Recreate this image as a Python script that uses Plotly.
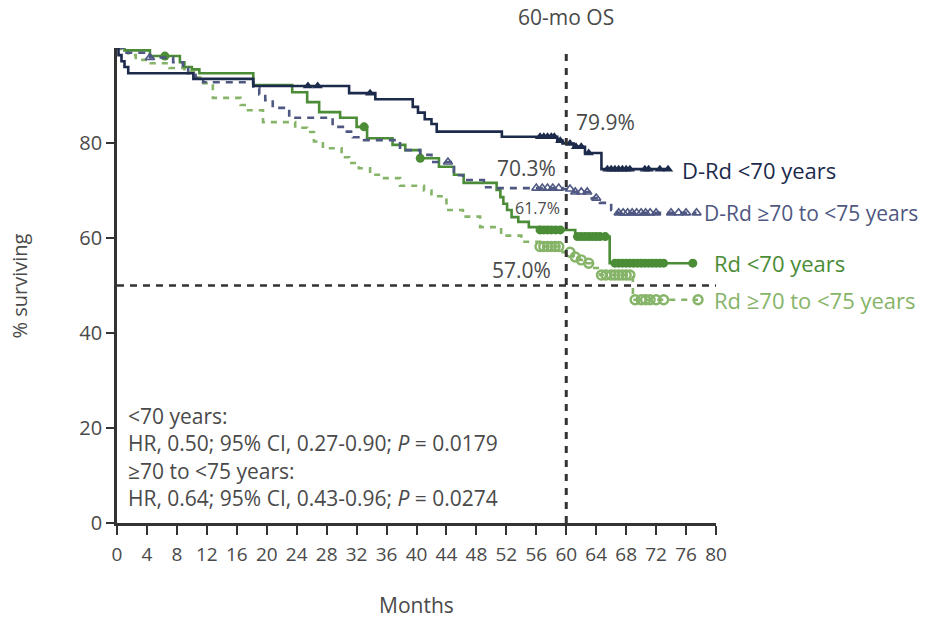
import plotly.graph_objects as go

# ---------------- data (months, % surviving) ----------------
drd70_t = [0, 0.2, 0.6, 1.0, 1.5, 10.2, 18.2, 31.0, 34.5, 39.5, 40.2, 41.1, 42.0, 42.7, 51.4, 58.8, 59.5, 61.0, 62.5, 64.7, 73.6]
drd70_s = [100, 98.5, 97.2, 96.0, 94.7, 93.5, 92.0, 90.5, 89.2, 87.6, 86.4, 85.0, 84.0, 82.4, 81.3, 80.5, 79.9, 79.2, 77.9, 74.5, 74.5]
drd70_cens = [25.5, 26.8, 33.8, 56.5, 57.0, 57.5, 58.0, 58.4, 59.2, 60.5, 61.3, 62.0, 63.0, 65.5, 66.0, 66.5, 67.0, 67.5, 68.0, 68.5, 70.5, 71.0, 72.5, 73.6]

drd7075_t = [0, 0.8, 4.4, 7.5, 8.8, 9.5, 10.5, 11.5, 18.2, 19.0, 19.8, 20.8, 23.0, 28.8, 30.7, 31.5, 33.0, 37.8, 40.5, 42.0, 45.0, 46.2, 49.0, 50.2, 59.5, 61.0, 63.4, 64.5, 66.0, 66.8, 77.4]
drd7075_s = [100, 99.0, 98.0, 97.0, 95.8, 94.7, 93.7, 92.8, 91.5, 90.2, 89.0, 87.4, 85.3, 83.4, 82.4, 81.2, 80.6, 78.5, 77.5, 76.0, 73.2, 72.2, 70.7, 70.5, 70.3, 69.7, 68.4, 67.4, 65.9, 65.3, 65.3]
drd7075_cens = [4.4, 44.2, 56.0, 56.8, 57.5, 58.2, 59.0, 60.5, 61.2, 62.0, 62.8, 64.0, 67.0, 67.6, 68.2, 68.8, 69.4, 70.0, 70.6, 71.2, 72.0, 74.0, 75.0, 76.0, 77.4]

rd70_t = [0, 1.0, 4.4, 8.4, 9.0, 10.0, 11.0, 18.2, 23.4, 25.4, 27.0, 29.8, 32.0, 33.4, 36.8, 38.5, 40.5, 43.0, 45.0, 46.3, 50.7, 51.2, 51.6, 52.1, 52.7, 53.6, 55.0, 56.5, 61.2, 65.8, 76.9]
rd70_s = [100, 99.5, 98.3, 97.0, 96.0, 95.5, 94.7, 92.2, 90.7, 88.6, 86.5, 85.3, 83.4, 81.0, 79.6, 78.5, 76.8, 75.0, 73.3, 71.6, 70.1, 68.6, 67.2, 65.9, 64.4, 63.4, 62.3, 61.7, 60.3, 54.7, 54.7]
rd70_cens = [6.4, 33.0, 40.5, 56.5, 57.0, 57.5, 58.0, 58.6, 59.2, 61.5, 62.0, 62.5, 63.0, 63.5, 64.0, 64.5, 65.2, 66.5, 67.0, 67.5, 68.0, 68.5, 69.0, 69.5, 70.0, 70.5, 71.0, 71.5, 72.0, 72.5, 73.0, 76.9]

rd7075_t = [0, 0.5, 1.5, 2.5, 4.5, 7.0, 9.0, 10.5, 11.5, 12.8, 16.5, 17.5, 19.5, 23.8, 25.4, 26.3, 27.5, 30.0, 31.0, 32.3, 33.8, 35.5, 37.8, 41.0, 42.0, 44.0, 46.2, 48.5, 51.3, 54.0, 56.5, 59.5, 61.0, 61.8, 62.5, 63.4, 64.5, 68.9, 77.6]
rd7075_s = [100, 99.3, 98.5, 97.5, 96.8, 95.8, 95.0, 93.8, 92.6, 89.5, 88.0, 86.9, 84.4, 83.2, 82.3, 80.3, 78.9, 77.0, 75.8, 74.7, 73.3, 72.6, 71.0, 70.0, 68.8, 65.9, 64.5, 62.3, 60.5, 59.2, 58.2, 57.0, 56.0, 55.4, 54.7, 53.7, 52.2, 47.0, 47.0]
rd7075_cens = [56.5, 57.0, 57.5, 58.0, 58.5, 59.0, 60.5, 61.2, 62.0, 63.0, 64.7, 65.3, 66.0, 66.5, 67.0, 67.5, 68.0, 68.5, 69.2, 70.0, 70.6, 71.2, 72.0, 73.0, 77.6]

x_ticks = list(range(0, 81, 4))
y_ticks = [0, 20, 40, 60, 80]

NAVY = "#1c2a4c"
SLATE = "#4f5882"
GREEN = "#4b8c36"
LGREEN = "#86b468"
TXT = "#4a4a4a"
FONT = "Open Sans"


def step_at(ts, ss, t):
    v = ss[0]
    for ti, si in zip(ts, ss):
        if ti <= t:
            v = si
        else:
            break
    return v


fig = go.Figure()

series = [
    (rd7075_t, rd7075_s, rd7075_cens, LGREEN, "6px,6px",
     dict(symbol="circle-open", size=9, line=dict(width=2.4, color=LGREEN), color=LGREEN)),
    (rd70_t, rd70_s, rd70_cens, GREEN, "solid",
     dict(symbol="circle", size=9, color=GREEN)),
    (drd7075_t, drd7075_s, drd7075_cens, SLATE, "7px,6px",
     dict(symbol="triangle-up-open", size=8, line=dict(width=1.6, color=SLATE), color=SLATE)),
    (drd70_t, drd70_s, drd70_cens, NAVY, "solid",
     dict(symbol="triangle-up", size=9, color=NAVY)),
]

for ts, ss, cens, col, dash, mk in series:
    fig.add_trace(go.Scatter(x=ts, y=ss, mode="lines", line=dict(color=col, width=2.6, dash=dash, shape="hv"),
                             cliponaxis=False, showlegend=False, hoverinfo="skip"))
    fig.add_trace(go.Scatter(x=cens, y=[step_at(ts, ss, c) for c in cens], mode="markers", marker=mk,
                             cliponaxis=False, showlegend=False, hoverinfo="skip"))

# reference lines
fig.add_shape(type="line", x0=0, x1=80, y0=50, y1=50, xref="x", yref="y",
              line=dict(color="#333333", width=2.6, dash="7px,6px"))
fig.add_shape(type="line", x0=60, x1=60, y0=0, y1=99.6, xref="x", yref="y",
              line=dict(color="#333333", width=3, dash="7px,7px"))

ann = []
ann.append(dict(x=61.1, y=84.4, text="79.9%", xanchor="left", yanchor="middle", font=dict(size=21, color=TXT)))
ann.append(dict(x=58.9, y=74.7, text="70.3%", xanchor="right", yanchor="middle", font=dict(size=21, color=TXT)))
ann.append(dict(x=59.4, y=66.3, text="61.7%", xanchor="right", yanchor="middle", font=dict(size=16, color=TXT)))
ann.append(dict(x=58.2, y=53.3, text="57.0%", xanchor="right", yanchor="middle", font=dict(size=21, color=TXT)))

ann.append(dict(x=75.2, y=74.3, text="D-Rd <70 years", xanchor="left", yanchor="middle", font=dict(size=22, color=NAVY)))
ann.append(dict(x=78.1, y=65.3, text="D-Rd ≥70 to <75 years", xanchor="left", yanchor="middle", font=dict(size=21, color=SLATE)))
ann.append(dict(x=79.4, y=54.7, text="Rd <70 years", xanchor="left", yanchor="middle", font=dict(size=22, color=GREEN)))
ann.append(dict(x=79.4, y=47.0, text="Rd ≥70 to <75 years", xanchor="left", yanchor="middle", font=dict(size=22, color=LGREEN)))

stats = ["&lt;70 years:",
         "HR, 0.50; 95% CI, 0.27-0.90; <i>P</i> = 0.0179",
         "≥70 to &lt;75 years:",
         "HR, 0.64; 95% CI, 0.43-0.96; <i>P</i> = 0.0274"]
ann.append(dict(x=1.2, y=14.0, text="<br>".join(stats), xanchor="left", yanchor="middle", align="left",
                font=dict(size=21, color=TXT)))

for a in ann:
    a.update(xref="x", yref="y", showarrow=False)

ann.append(dict(x=60, xref="x", y=1.065, yref="paper", text="60-mo OS", showarrow=False,
                xanchor="center", yanchor="middle", font=dict(size=21, color=TXT)))
ann.append(dict(x=0.5, y=-0.173, xref="paper", yref="paper", text="Months", showarrow=False,
                xanchor="center", yanchor="middle", font=dict(size=21, color=TXT)))
ann.append(dict(x=-0.162, y=0.5, xref="paper", yref="paper", text="% surviving", showarrow=False, textangle=-90,
                xanchor="center", yanchor="middle", font=dict(size=20, color=TXT)))

fig.update_layout(
    width=941, height=618,
    margin=dict(l=117, r=225, t=48, b=95),
    plot_bgcolor="white", paper_bgcolor="white",
    font=dict(family=FONT, color=TXT),
    annotations=ann,
    showlegend=False,
    xaxis=dict(range=[0, 80], tickvals=x_ticks, ticktext=[str(v) for v in x_ticks],
               showline=True, linecolor="#333333", linewidth=2.6, ticks="outside", ticklen=9,
               tickwidth=2, tickcolor="#333333", showgrid=False, zeroline=False,
               tickfont=dict(size=19, color=TXT), ticklabelstandoff=3, fixedrange=True),
    yaxis=dict(range=[0, 100], tickvals=y_ticks, ticktext=[str(v) for v in y_ticks],
               showline=True, linecolor="#333333", linewidth=2.6, ticks="outside", ticklen=8,
               tickwidth=2, tickcolor="#333333", showgrid=False, zeroline=False,
               tickfont=dict(size=20, color=TXT), fixedrange=True),
)

fig.write_html("out.html", config={"displayModeBar": False},
               post_script="document.body.style.margin='0';document.body.style.overflow='hidden';")
